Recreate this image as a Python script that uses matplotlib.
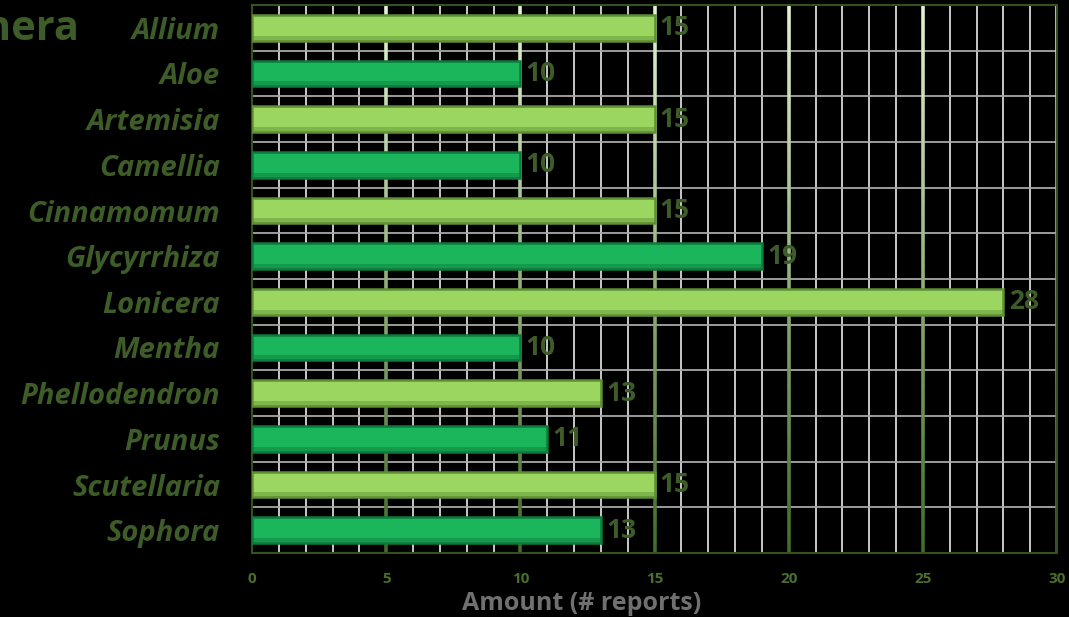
import matplotlib
matplotlib.use("Agg")
import matplotlib.pyplot as plt
import numpy as np
from matplotlib.collections import LineCollection
from matplotlib.colors import to_rgb

genera = ["Allium", "Aloe", "Artemisia", "Camellia", "Cinnamomum", "Glycyrrhiza",
          "Lonicera", "Mentha", "Phellodendron", "Prunus", "Scutellaria", "Sophora"]
reports = [15, 10, 15, 10, 15, 19, 28, 10, 13, 11, 15, 13]

light_green = "#9bd660"
dark_green = "#1bb55c"
text_green = "#3d5c28"

fig = plt.figure(figsize=(10.69, 6.17), dpi=100, facecolor="black")
ax = fig.add_axes([252 / 1069, 1 - 553 / 617, 805 / 1069, 548 / 617])
ax.set_facecolor("black")

y = np.arange(len(genera))
ax.set_xlim(0, 30)
ax.set_ylim(len(genera) - 0.5, -0.5)

# minor grid: every unit across, every category boundary down
for xv in range(1, 30):
    if xv % 5:
        ax.axvline(xv, color="#d8d8d8", lw=1.3, zorder=1)
for yb in np.arange(0.5, len(genera) - 0.5, 1):
    ax.axhline(yb, color="#a8a8a8", lw=1.3, zorder=1)

# major lines fade from pale green at the top to dark green at the bottom
top_c = np.array(to_rgb("#e2f2d2"))
bot_c = np.array(to_rgb("#3f6a26"))
n = 60
ys = np.linspace(-0.5, len(genera) - 0.5, n + 1)
for xv in [5, 10, 15, 20, 25, 30]:
    segs = [[(xv, ys[i]), (xv, ys[i + 1])] for i in range(n)]
    cols = [top_c + (bot_c - top_c) * (i / n) for i in range(n)]
    ax.add_collection(LineCollection(segs, colors=cols, lw=2.6, zorder=1.5))

colors = [light_green if i % 2 == 0 else dark_green for i in range(len(genera))]
edges = ["#5f8f35" if i % 2 == 0 else "#0e7a3b" for i in range(len(genera))]
bars = ax.barh(y, reports, height=0.56, color=colors, edgecolor=edges, lw=1.8, zorder=3)

# darker lower rim for a slight bevel
for b, e in zip(bars, edges):
    ax.barh(b.get_y() + b.get_height() * 0.9, b.get_width(), height=b.get_height() * 0.2,
            color=e, alpha=0.45, lw=0, zorder=3.2)

for b, v in zip(bars, reports):
    ax.text(v + 0.2, b.get_y() + b.get_height() / 2, str(v), va="center", ha="left",
            fontsize=19, fontweight="bold", color=text_green, family="Open Sans",
            zorder=4)

ax.set_yticks(y)
ax.set_yticklabels(genera, fontsize=21, fontweight="bold", style="italic",
                   color=text_green, family="Open Sans")
ax.tick_params(axis="y", length=0, pad=23)

ax.set_xticks(range(0, 31, 5))
ax.set_xticklabels([str(t) for t in range(0, 31, 5)], fontsize=11, fontweight="bold",
                   color="#4a6e2c", family="Open Sans")
ax.tick_params(axis="x", length=0, pad=14)
ax.set_xlabel("Amount (# reports)", fontsize=18, fontweight="bold", color="#707070",
              family="Open Sans")
ax.xaxis.set_label_coords((582 - 252) / 805, -(604 - 553) / 548)
ax.xaxis.label.set_va("center")

for s in ax.spines.values():
    s.set_color("#34521f")
    s.set_linewidth(1.5)

fig.text(80 / 1069, 1 - 30 / 617, "Genera", ha="right", va="center", fontsize=30,
         fontweight="bold", color=text_green, family="Open Sans")

fig.savefig("out.png", dpi=100, facecolor="black")
